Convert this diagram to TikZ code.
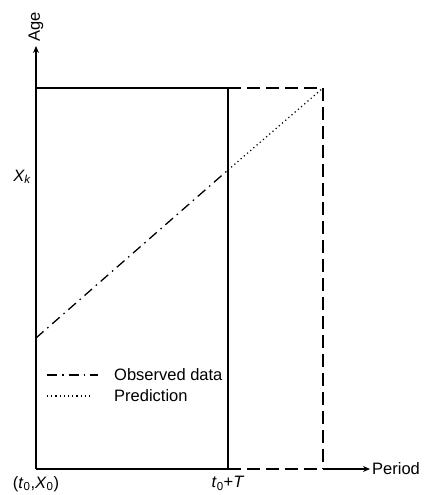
\documentclass[tikz,border=0pt]{standalone}
\usepackage{fontspec}
\setmainfont{Liberation Sans}
\usetikzlibrary{arrows.meta}
\begin{document}
\begin{tikzpicture}[x=1pt,y=-1pt,
  every node/.style={font=\fontsize{16.5}{19}\selectfont, inner sep=0pt},
  frame/.style={line width=1.4pt},
  ext/.style={line width=1.4pt, dash pattern=on 13pt off 6pt},
  obs/.style={line width=1.3pt, dash pattern=on 10pt off 5pt on 1.5pt off 5pt},
  pred/.style={line width=1.2pt, dash pattern=on 1.2pt off 3pt},
  axis/.style={line width=1.4pt, -{Stealth[length=7pt,width=6pt]}}]
\useasboundingbox (0,0) rectangle (425,495);
% corners of the observation window and its projection
\coordinate (O) at (36,469);
\coordinate (TL) at (36,88);
\coordinate (TR) at (228,88);
\coordinate (BR) at (228,469);
\coordinate (PTR) at (323,88);
\coordinate (PBR) at (323,469);
\coordinate (ytop) at (36,46);
\coordinate (xend) at (370,469);
\coordinate (start) at (36,338);
\coordinate (cross) at (228,170);
% axes
\draw[axis] (O) -- (ytop);
\draw[axis] (PBR) -- (xend);
\node[rotate=90, anchor=west] (age) at (36,42) {Age};
\node[anchor=west] (period) at (372,469) {Period};
% observation window
\draw[frame] (TL) -- (TR) -- (BR) -- (O);
% projected window
\draw[ext] (TR) -- (PTR) -- (PBR);
\draw[ext] (BR) -- (PBR);
% trend lines
\draw[obs] (start) -- (cross);
\draw[pred] (cross) -- (PTR);
% labels
\node (xk) at (22,177) {\textit{X\textsubscript{k}}};
\node[anchor=north] (orig) at (36,476) {(\textit{t}\textsubscript{0},\textit{X}\textsubscript{0})};
\node[anchor=north] (tT) at (228,476) {\textit{t}\textsubscript{0}+\textit{T}};
% legend
\coordinate (l1a) at (47,375); \coordinate (l1b) at (98,375);
\coordinate (l2a) at (47,396); \coordinate (l2b) at (93,396);
\draw[obs] (l1a) -- (l1b);
\draw[pred] (l2a) -- (l2b);
\node[anchor=west] (lobs) at (114,375) {Observed data};
\node[anchor=west] (lpred) at (114,396) {Prediction};
\end{tikzpicture}
\end{document}
